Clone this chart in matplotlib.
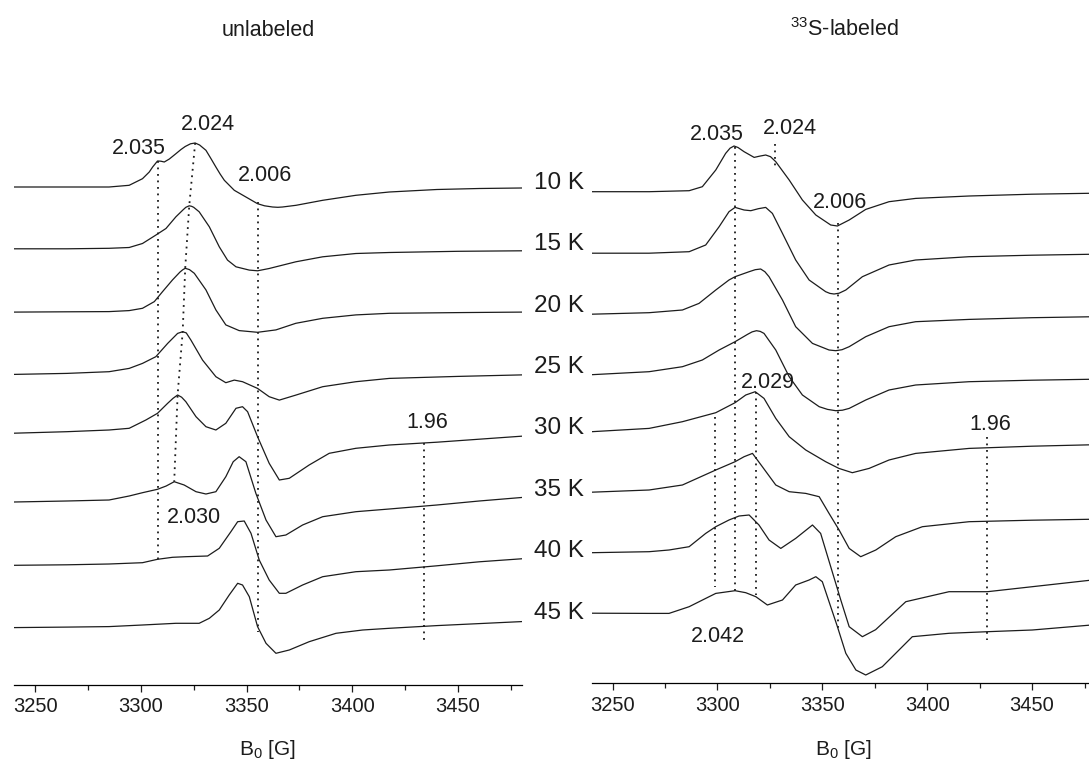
import numpy as np
import matplotlib
matplotlib.use('Agg')
import matplotlib.pyplot as plt
from matplotlib.ticker import MultipleLocator

plt.rcParams['font.family'] = ['Liberation Sans', 'DejaVu Sans']

W, H = 1089, 760
TOP = 95

temps = ['10 K', '15 K', '20 K', '25 K', '30 K', '35 K', '40 K', '45 K']

# ---- unlabeled: field [G] / signal (arb. units, stacked) ----
l10_B = [3240, 3265, 3285, 3294.5, 3300.8, 3304, 3305.6, 3307.9, 3309.5, 3311.1, 3313.5, 3316.6, 3319, 3321,
         3323.5, 3325.7, 3327.8, 3330.8, 3333, 3335.5, 3337.5, 3339.5, 3344.2, 3349.7, 3355.2, 3358.5,
         3362.3, 3364.8, 3367, 3373.4, 3386, 3401.7, 3417.5, 3440, 3460, 3480]
l10_S = [0, 0, 0, 1.7, 8.3, 15, 20, 26, 25.8, 25, 28, 33.3, 37.5, 40.5,
         43.2, 44, 42, 36.7, 29, 20, 13, 6.7, -3.3, -10, -16.7, -18.8,
         -20, -20.3, -20, -18.3, -13.3, -8.3, -5, -2.5, -1.5, -1]

l15_B = [3240, 3265, 3285, 3294.5, 3300.8, 3307.1, 3311.9, 3316.6, 3320, 3321.3, 3322.9, 3324, 3325, 3327.6,
         3332.4, 3337.1, 3341, 3345, 3351.3, 3355.2, 3360.7, 3373.3, 3386, 3401.7, 3417.5, 3450, 3480]
l15_S = [0, 0, 0.5, 1.3, 5.3, 13.7, 20.3, 32, 39, 41.5, 43, 42.5, 41.5, 37,
         22, 2, -11.3, -18, -21.3, -22, -19.7, -13, -8, -4.7, -3.7, -2.5, -2]

l20_B = [3240, 3265, 3285, 3294.5, 3300.8, 3306.4, 3310.3, 3315, 3318.5, 3319.8, 3321, 3323, 3325.3,
         3330.8, 3335.5, 3340.2, 3346.5, 3355.2, 3363.9, 3373.3, 3386, 3401.7, 3417.5, 3450, 3480]
l20_S = [-1.5, -1.2, -1, 0, 2.3, 9, 19, 30.7, 38.5, 40.8, 42.3, 41, 37.3,
         20.7, 0.7, -14.3, -20, -21.7, -19.3, -12.7, -7.7, -4.3, -2.7, -2, -1.5]

l25_B = [3240, 3265, 3285, 3294.5, 3300.8, 3307.1, 3312.7, 3317.4, 3319.8, 3321.5, 3323.7, 3329.2, 3335.5,
         3340.2, 3344.2, 3348.1, 3355.2, 3360.7, 3365.5, 3373.3, 3386, 3401.7, 3417.5, 3450, 3480]
l25_S = [-2, -1, 0.7, 4, 9, 15.7, 29, 39, 40.7, 39.5, 32.3, 12.3, -4.3,
         -10.3, -7.7, -9.3, -16, -24.3, -27.7, -22.7, -14.3, -9.3, -6, -4, -2.5]

l30_B = [3240, 3265, 3285, 3294.5, 3302.4, 3307.9, 3312.7, 3315.2, 3317.4, 3319.3, 3321.3, 3326.1, 3330.8,
         3335.5, 3340.2, 3345, 3348.1, 3350.5, 3355.2, 3360.7, 3365.5, 3370.2, 3379.6, 3389.1, 3401.7,
         3417.5, 3440, 3460, 3480]
l30_S = [1, 2.5, 4.2, 5.9, 14.2, 20.9, 30.9, 35.8, 39.2, 37, 32.5, 17.5, 7.5,
         4.2, 10.9, 25.9, 27.5, 22.5, -2.5, -29.1, -45.8, -44.1, -30.8, -19.1, -14.1,
         -10.8, -8, -5, -2]

l35_B = [3240, 3265, 3285, 3294.5, 3300.8, 3307.9, 3312, 3315.8, 3320.5, 3326.1, 3330.8, 3335.5, 3340.2,
         3343.7, 3346.5, 3349.7, 3354.4, 3359.2, 3363.9, 3368.6, 3376.5, 3386, 3401.7, 3417.5, 3440, 3460, 3480]
l35_S = [-6, -5, -4, 0, 3.3, 6.7, 10, 14.3, 11, 4.3, 2, 4.3, 19.3,
         34.3, 39.3, 34.3, 2.7, -24, -40.7, -39, -29, -20.7, -15.7, -13, -9, -5, -1.5]

l40_B = [3240, 3265, 3285, 3300.8, 3307.9, 3315, 3321.3, 3331.6, 3337.1, 3342.6, 3345.8, 3348.9, 3352.1,
         3356, 3360.7, 3365.5, 3368.6, 3376.5, 3386, 3401.7, 3417.5, 3440, 3460, 3480]
l40_S = [-7.5, -7, -6.2, -4.9, -1.5, 0.5, 1.1, 1.8, 9.5, 26.1, 36.1, 36.8, 24.5,
         -2.2, -22.2, -35.5, -35.5, -27.2, -18.9, -13.9, -12.2, -8, -4, -1]

l45_B = [3240, 3265, 3285, 3300.8, 3316.6, 3327.6, 3332.4, 3337.1, 3341.8, 3345.8, 3348.1, 3351.3, 3355.2,
         3359.2, 3363.9, 3370.2, 3379.6, 3392.3, 3404.9, 3417.5, 3440, 3460, 3480]
l45_S = [-8, -7.5, -7, -5.4, -3.7, -3.7, 1.3, 9.6, 24.6, 36.3, 34.6, 22.9, -7,
         -23.7, -33.7, -30.4, -22.1, -13.7, -10.4, -8.7, -6, -4, -2]

# ---- 33S-labeled ----
r10_B = [3240, 3267.4, 3286.5, 3292.8, 3299.2, 3303.9, 3306, 3307.9, 3309.8, 3312.7, 3317.5, 3320, 3323,
         3325.3, 3327.8, 3334.2, 3340.5, 3346.9, 3354, 3357.2, 3362.8, 3370.7, 3381.8, 3394.5, 3420, 3450, 3480]
r10_S = [0, 0, 1, 5, 21.7, 38.3, 43.5, 45.7, 44.2, 40, 34.3, 35.5, 36.7,
         35, 30, 11.7, -8.3, -23.3, -33.3, -34.3, -28.3, -17.7, -10, -6.7, -4.3, -2.5, -1.5]

r15_B = [3240, 3267.4, 3286.5, 3294.4, 3300.8, 3305.5, 3308.4, 3312.7, 3315.9, 3319.5, 3323, 3326.2,
         3331, 3337.3, 3343.7, 3351.6, 3353.6, 3355.6, 3358, 3361.2, 3369.1, 3381.8, 3394.5, 3420, 3450, 3480]
r15_S = [0, 0, 1.5, 8.2, 26.5, 41.5, 45.8, 43.2, 42.5, 44.5, 45.8, 39.8,
         19.8, -6.8, -26.8, -38.5, -40.2, -40.8, -40, -36.8, -23.5, -11.8, -6.8, -3.5, -2, -1]

r20_B = [3240, 3267.4, 3283.3, 3291.2, 3299.2, 3305.5, 3308.4, 3315.1, 3318, 3320.6, 3322.6, 3324.6, 3331,
         3337.3, 3345.3, 3353.2, 3356.4, 3359.4, 3362.8, 3370.7, 3381.8, 3394.5, 3420, 3450, 3480]
r20_S = [0.5, 2, 4.7, 11.3, 24.7, 34.7, 38, 43, 45, 45.7, 43, 38, 14.7,
         -12, -28.7, -35.3, -36, -35, -32, -22, -12, -7, -4.7, -3, -2]

r25_B = [3240, 3267.4, 3283.3, 3292.8, 3300.8, 3308.4, 3314.3, 3316.5, 3318.6, 3320.4, 3322.2, 3327.8, 3334.2,
         3340.5, 3348.5, 3352.5, 3356.4, 3359.6, 3362.8, 3370.7, 3381.8, 3394.5, 3420, 3450, 3480]
r25_S = [1.5, 4.5, 9.5, 16.2, 26.2, 34.5, 41.8, 44.3, 45.5, 44.8, 42.8, 26.2, -0.5,
         -18.8, -30.5, -33.2, -34.5, -34, -32.2, -23.8, -13.8, -8.8, -5.5, -4, -3]

r30_B = [3240, 3267.4, 3283.3, 3299.2, 3308.4, 3313.5, 3318, 3322.2, 3327.8, 3334.2,
         3342.1, 3351.6, 3357.9, 3364.3, 3372.3, 3381.8, 3394.5, 3420, 3450, 3480]
r30_S = [6, 9.3, 16, 25, 35, 42.7, 46, 39.3, 19.3, 1,
         -12.3, -24, -30.7, -35, -30.7, -22.3, -15.7, -10.7, -8.5, -7]

r35_B = [3240, 3267.4, 3283.3, 3299.2, 3308.4, 3312.7, 3316.7, 3321.4, 3327.8, 3334.2, 3342.1,
         3348.5, 3353.2, 3358, 3362.8, 3368.3, 3375.5, 3385, 3397.7, 3420, 3450, 3480]
r35_S = [7, 9.2, 14.2, 29.2, 37.5, 42.5, 45.8, 32.5, 14.2, 7.5, 5.8,
         2.5, -14.2, -30.8, -49.2, -57.5, -50.8, -37.5, -27.5, -22.5, -21, -20]

r40_B = [3240, 3267.4, 3276.9, 3286.5, 3294.4, 3299.2, 3305.5, 3310.3, 3315.1, 3319.8, 3324.6, 3330.2,
         3337.3, 3345.3, 3349.2, 3354, 3358.8, 3362.8, 3369.1, 3375.4, 3389.8, 3410.4, 3428.7, 3450.1, 3480]
r40_S = [8, 9, 10.7, 14, 27.3, 34, 40.7, 44.7, 45.7, 35.7, 20.7, 12.3,
         22.3, 35.7, 27.3, -6, -39.3, -66, -76, -69, -41, -31, -31, -26, -19]

r45_B = [3240, 3267.4, 3276.9, 3286.5, 3294.4, 3299.2, 3308.4, 3313.5, 3318.3, 3323.8, 3331, 3337.3, 3343.7,
         3346.9, 3350, 3354, 3357.2, 3361.2, 3366, 3370.7, 3378.6, 3392.9, 3410.4, 3428.7, 3450.1, 3480]
r45_S = [9, 8.8, 8.8, 15.5, 23.8, 28.8, 31.5, 29.5, 25.5, 17.2, 22.2, 37.2, 42.2,
         45.5, 40.5, 15.5, -4.5, -31.1, -47.8, -52.8, -44.5, -14.5, -11.1, -9.5, -7.8, -2.5]

left_B = [l10_B, l15_B, l20_B, l25_B, l30_B, l35_B, l40_B, l45_B]
left_S = [l10_S, l15_S, l20_S, l25_S, l30_S, l35_S, l40_S, l45_S]
right_B = [r10_B, r15_B, r20_B, r25_B, r30_B, r35_B, r40_B, r45_B]
right_S = [r10_S, r15_S, r20_S, r25_S, r30_S, r35_S, r40_S, r45_S]

# g-value labels: text, x, baseline (px)
left_marks = [('2.035', 139.2, 154.5), ('2.024', 207.7, 130.0), ('2.006', 265.2, 180.7),
              ('1.96', 427.0, 427.6), ('2.030', 194.2, 523.0)]
right_marks = [('2.035', 716.7, 139.5), ('2.024', 790.0, 133.5), ('2.006', 840.3, 208.3),
               ('2.029', 767.5, 388.5), ('1.96', 990.0, 430.4), ('2.042', 717.5, 641.5)]
# vertical dotted guides: field, from, to (px)
left_vlines = [(3307.9, 161, 562), (3355.2, 202, 632), (3434.0, 443, 643)]
right_vlines = [(3308.4, 147, 592), (3327.2, 144, 168), (3357.4, 223, 628),
                (3318.3, 392, 595), (3298.9, 417, 587), (3428.7, 437, 640)]
# 2.024 -> 2.030 drift, followed through the peak of each trace
drift_B = [3325.7, 3322.9, 3321.0, 3319.8, 3317.4, 3315.8]

L_BASE, L_STEP = 187.0, 61.8
R_BASE, R_STEP = 191.7, 61.5

LINE = '#1c1c1c'
DOT = dict(color='#1c1c1c', lw=1.3, ls=(0, (1, 2.6)))

fig = plt.figure(figsize=(W / 100, H / 100), dpi=100)


def make_axes(px_left, px_right, px_axis):
    ax = fig.add_axes([px_left / W, 1 - px_axis / H, (px_right - px_left) / W, (px_axis - TOP) / H])
    ax.set_xlim(3240, 3480)
    ax.set_ylim(-px_axis, -TOP)
    for s in ('left', 'right', 'top'):
        ax.spines[s].set_visible(False)
    ax.spines['bottom'].set_linewidth(0.9)
    ax.set_yticks([])
    ax.xaxis.set_major_locator(MultipleLocator(50))
    ax.xaxis.set_minor_locator(MultipleLocator(25))
    ax.tick_params(axis='x', which='major', length=5, width=0.9, labelsize=14.5, pad=4,
                   colors='#1c1c1c')
    ax.tick_params(axis='x', which='minor', length=3.5, width=0.9, colors='#1c1c1c')
    ax.patch.set_visible(False)
    return ax


def draw_traces(ax, Bs, Ss, base, step):
    for i, (b, s) in enumerate(zip(Bs, Ss)):
        ax.plot(b, -(base + i * step) + np.array(s), color=LINE, lw=0.9)


ax1 = make_axes(13.9, 521.5, 685.0)
ax2 = make_axes(591.6, 1095.0, 683.3)

draw_traces(ax1, left_B, left_S, L_BASE, L_STEP)
draw_traces(ax2, right_B, right_S, R_BASE, R_STEP)

for f, y0, y1 in left_vlines:
    ax1.plot([f, f], [-y0, -y1], **DOT)
for f, y0, y1 in right_vlines:
    ax2.plot([f, f], [-y0, -y1], **DOT)

drift_y = [-(L_BASE + i * L_STEP) + np.interp(f, left_B[i], left_S[i]) for i, f in enumerate(drift_B)]
ax1.plot(drift_B, drift_y, **DOT)


def put_marks(marks):
    for txt, px, py in marks:
        fig.text(px / W, 1 - py / H, txt, ha='center', va='baseline', fontsize=15.5, color='#1c1c1c')


put_marks(left_marks)
put_marks(right_marks)

for i, t in enumerate(temps):
    fig.text(559 / W, 1 - (188.8 + i * 61.4) / H, t, ha='center', va='baseline',
             fontsize=17.5, color='#1c1c1c')

fig.text(268 / W, 1 - 36 / H, 'unlabeled', ha='center', va='baseline', fontsize=15.5, color='#1c1c1c')
fig.text(844 / W, 1 - 36 / H, r'$^{\mathregular{33}}$S-labeled', ha='center', va='baseline',
         fontsize=15.5, color='#1c1c1c')
fig.text(267 / W, 1 - 755 / H, r'B$_{\mathregular{0}}$ [G]', ha='center', va='baseline',
         fontsize=15, color='#1c1c1c')
fig.text(843 / W, 1 - 755 / H, r'B$_{\mathregular{0}}$ [G]', ha='center', va='baseline',
         fontsize=15, color='#1c1c1c')

fig.savefig('out.png', dpi=100, facecolor='white')
